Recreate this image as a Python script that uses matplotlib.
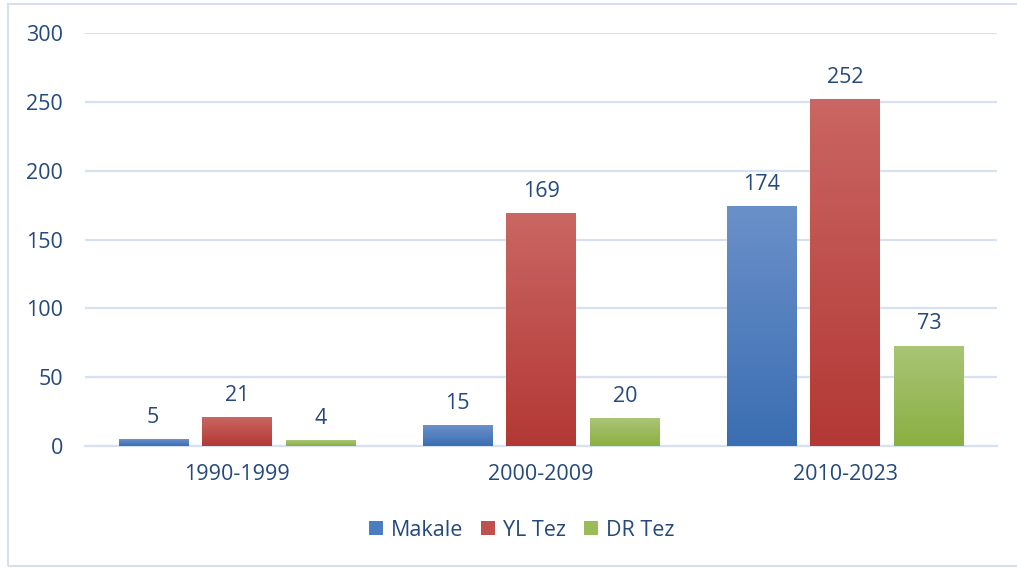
import matplotlib
matplotlib.use("Agg")
import matplotlib.pyplot as plt
import numpy as np
from matplotlib.patches import Rectangle
from matplotlib.colors import LinearSegmentedColormap

categories = ["1990-1999", "2000-2009", "2010-2023"]
series_names = ["Makale", "YL Tez", "DR Tez"]
makale = [5, 15, 174]
yl_tez = [21, 169, 252]
dr_tez = [4, 20, 73]
yticks = [0, 50, 100, 150, 200, 250, 300]

series = [makale, yl_tez, dr_tez]
grad = [("#6B90C9", "#3A6EB2"), ("#CA6663", "#B33835"), ("#A9C576", "#8BAF42")]
legend_colors = ["#4A7EC0", "#C0504D", "#9BBB59"]
text_color = "#24497A"
grid_color = "#D6E1F2"

plt.rcParams['font.family'] = ['Open Sans', 'DejaVu Sans']
FS = 15.5

W, H = 1017, 568
fig = plt.figure(figsize=(W / 100, H / 100), dpi=100)
ax = fig.add_axes([85 / W, 1 - 446 / H, 912 / W, 413 / H])

x = np.arange(len(categories))
bw = 0.227
step = 0.276
for i, (vals, (ctop, cbot)) in enumerate(zip(series, grad)):
    cmap = LinearSegmentedColormap.from_list(f"g{i}", [cbot, ctop])
    xs = x + (i - 1) * step
    bars = ax.bar(xs, vals, width=bw, color=legend_colors[i], label=series_names[i], zorder=2)
    for b, v in zip(bars, vals):
        bx, by = b.get_x(), b.get_y()
        bwid, bh = b.get_width(), b.get_height()
        img = ax.imshow(np.linspace(0, 1, 256).reshape(-1, 1), cmap=cmap, origin="lower",
                        extent=[bx, bx + bwid, by, by + bh], aspect="auto", zorder=3)
        img.set_clip_path(b)
        ax.annotate(str(v), (bx + bwid / 2, bh), xytext=(0, 8), textcoords="offset points",
                    ha="center", va="bottom", fontsize=FS, color=text_color)

ax.set_xlim(-0.5, 2.5)
ax.set_ylim(0, 300)
ax.set_yticks(yticks)
ax.set_xticks(x)
ax.set_xticklabels(categories)
ax.tick_params(axis="both", length=0, labelsize=FS, labelcolor=text_color)
ax.tick_params(axis="y", pad=16)
ax.tick_params(axis="x", pad=13)
ax.grid(axis="y", color=grid_color, linewidth=1.6, zorder=0)
ax.set_axisbelow(True)
for s in ["top", "right", "left"]:
    ax.spines[s].set_visible(False)
ax.spines["bottom"].set_color(grid_color)
ax.spines["bottom"].set_linewidth(1.6)

leg = fig.legend(loc="center", bbox_to_anchor=(0.513, 1 - 530 / H), ncol=3, frameon=False,
                 fontsize=FS, handlelength=0.65, handleheight=0.65, handletextpad=0.35,
                 columnspacing=0.85)
for t in leg.get_texts():
    t.set_color(text_color)

fig.patches.append(Rectangle((8 / W, 1 - 566 / H), 1.0, 562 / H, transform=fig.transFigure,
                             fill=False, edgecolor="#D5DFEE", linewidth=1.5))

fig.savefig("out.png", dpi=100)
